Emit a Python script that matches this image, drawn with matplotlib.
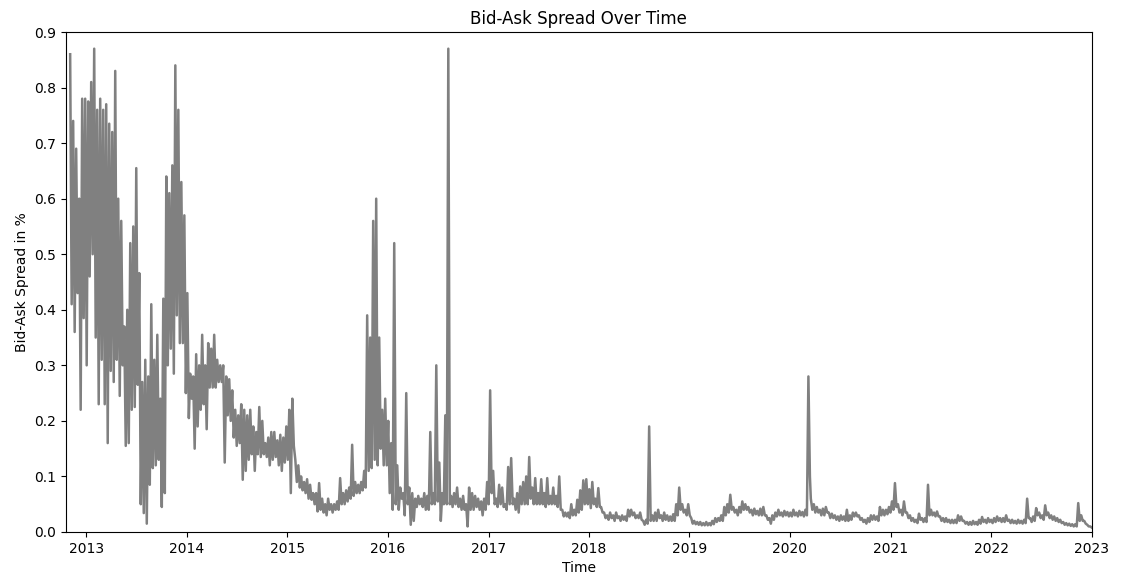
import numpy as np
import pandas as pd
import matplotlib
matplotlib.use("Agg")
import matplotlib.pyplot as plt
import matplotlib.dates as mdates

# spread readings, pairs of (high, low) every ~11 days, per segment
seg_2012 = [0.86, 0.41, 0.74, 0.36, 0.69, 0.43, 0.60, 0.22, 0.78, 0.385,
            0.78, 0.30, 0.775, 0.46, 0.81, 0.50, 0.87, 0.35, 0.76, 0.23,
            0.78, 0.31, 0.76, 0.23, 0.77, 0.16, 0.735, 0.29, 0.72, 0.27,
            0.83, 0.31, 0.60, 0.245, 0.56, 0.30, 0.37, 0.155, 0.40, 0.16,
            0.52, 0.22, 0.55, 0.225, 0.655, 0.265, 0.466, 0.05, 0.27, 0.034,
            0.31, 0.015, 0.28, 0.085, 0.41, 0.115, 0.31, 0.12, 0.355, 0.13,
            0.24, 0.045, 0.42, 0.07, 0.64, 0.30, 0.61, 0.33, 0.66, 0.285,
            0.84, 0.39, 0.76, 0.34, 0.63, 0.34, 0.57, 0.25, 0.43, 0.205]

seg_2014 = [0.285, 0.24, 0.28, 0.15, 0.32, 0.19, 0.30, 0.22, 0.355, 0.23,
            0.30, 0.185, 0.34, 0.26, 0.33, 0.26, 0.355, 0.26, 0.31, 0.27,
            0.30, 0.27, 0.30, 0.125, 0.28, 0.21, 0.275, 0.20, 0.255, 0.17,
            0.22, 0.155, 0.21, 0.16, 0.23, 0.094, 0.22, 0.11, 0.21, 0.13,
            0.22, 0.14, 0.19, 0.11, 0.18, 0.14, 0.225, 0.135, 0.20, 0.14,
            0.16, 0.135, 0.17, 0.12, 0.18, 0.13, 0.18, 0.135, 0.165, 0.12,
            0.175, 0.11, 0.17, 0.125, 0.19, 0.13, 0.22, 0.07, 0.24, 0.155,
            0.13, 0.09, 0.12, 0.08]

seg_2015 = [0.10, 0.075, 0.09, 0.07, 0.095, 0.06, 0.085, 0.058, 0.07, 0.05,
            0.07, 0.037, 0.088, 0.04, 0.06, 0.035, 0.05, 0.03, 0.06, 0.04,
            0.05, 0.035, 0.05, 0.04, 0.055, 0.04, 0.097, 0.05, 0.07, 0.05,
            0.075, 0.055, 0.08, 0.06, 0.157, 0.065, 0.09, 0.07, 0.085, 0.07,
            0.09, 0.075, 0.11, 0.08, 0.39, 0.11, 0.35, 0.115, 0.56, 0.13,
            0.60, 0.12, 0.35, 0.15, 0.22, 0.12, 0.24, 0.12, 0.20, 0.07,
            0.16, 0.04, 0.52, 0.05, 0.12, 0.04, 0.08, 0.06, 0.07, 0.03,
            0.25, 0.05, 0.08, 0.013, 0.07, 0.02, 0.06, 0.045, 0.065, 0.05,
            0.06, 0.045, 0.07, 0.04, 0.065, 0.04, 0.18, 0.05, 0.07, 0.05,
            0.30, 0.055, 0.125, 0.02, 0.07, 0.05, 0.21, 0.05, 0.87, 0.05]

seg_2016 = [0.065, 0.045, 0.07, 0.05, 0.08, 0.045, 0.06, 0.04, 0.065, 0.04,
            0.05, 0.01, 0.08, 0.04, 0.07, 0.04, 0.065, 0.045, 0.06, 0.04,
            0.055, 0.03, 0.06, 0.04, 0.09, 0.05, 0.255, 0.07, 0.11, 0.05,
            0.06, 0.045, 0.085, 0.05, 0.08, 0.045, 0.05, 0.04, 0.117, 0.05,
            0.133, 0.05, 0.06, 0.04, 0.07, 0.035, 0.082, 0.05, 0.09, 0.05,
            0.10, 0.05, 0.135, 0.06, 0.08, 0.05, 0.097, 0.05, 0.07, 0.05,
            0.095, 0.05, 0.07, 0.045, 0.097, 0.05, 0.065, 0.05, 0.08, 0.05,
            0.065, 0.045, 0.10, 0.04, 0.04, 0.028, 0.035, 0.028, 0.035, 0.025,
            0.05, 0.03, 0.04, 0.03, 0.058, 0.035, 0.075, 0.04, 0.093, 0.05,
            0.095, 0.05, 0.077, 0.043, 0.09, 0.05, 0.06, 0.045, 0.079, 0.045]

seg_2018 = [0.045, 0.035, 0.035, 0.025, 0.03, 0.022, 0.035, 0.025, 0.03, 0.02,
            0.035, 0.025, 0.028, 0.02, 0.03, 0.022, 0.028, 0.02, 0.04, 0.028,
            0.04, 0.03, 0.035, 0.025, 0.03, 0.025, 0.035, 0.022, 0.02, 0.013,
            0.022, 0.015, 0.19, 0.02, 0.03, 0.02, 0.035, 0.02, 0.04, 0.025,
            0.03, 0.02, 0.035, 0.022, 0.03, 0.02, 0.028, 0.02, 0.032, 0.02,
            0.05, 0.03, 0.08, 0.04, 0.05, 0.035, 0.04, 0.03, 0.05, 0.03,
            0.025, 0.015, 0.02, 0.014, 0.018, 0.013, 0.018, 0.012, 0.016, 0.012,
            0.018, 0.012, 0.016, 0.012, 0.02, 0.014, 0.025, 0.018, 0.025, 0.02,
            0.03, 0.02, 0.045, 0.03, 0.05, 0.035, 0.067, 0.04, 0.045, 0.035,
            0.04, 0.03, 0.045, 0.035, 0.055, 0.04, 0.05, 0.04, 0.045, 0.035,
            0.04, 0.03, 0.042, 0.032, 0.038, 0.03, 0.042, 0.03, 0.045, 0.03,
            0.03, 0.022, 0.025, 0.015, 0.03, 0.022, 0.035, 0.028, 0.04, 0.03,
            0.035, 0.028, 0.038, 0.03, 0.036, 0.028, 0.035, 0.028, 0.04, 0.03,
            0.035, 0.028, 0.038, 0.03, 0.036, 0.028, 0.04, 0.03, 0.28, 0.10]

seg_2020 = [0.06, 0.04, 0.05, 0.035, 0.045, 0.035, 0.04, 0.03, 0.042, 0.03,
            0.045, 0.035, 0.035, 0.025, 0.033, 0.025, 0.03, 0.022, 0.028, 0.02,
            0.03, 0.022, 0.028, 0.02, 0.04, 0.02, 0.03, 0.022, 0.035, 0.028,
            0.035, 0.028, 0.03, 0.022, 0.025, 0.018, 0.022, 0.015, 0.025, 0.018,
            0.03, 0.022, 0.03, 0.022, 0.028, 0.02, 0.045, 0.03, 0.04, 0.03,
            0.04, 0.032, 0.045, 0.035, 0.055, 0.04, 0.088, 0.045, 0.05, 0.035,
            0.04, 0.03, 0.055, 0.035, 0.035, 0.025, 0.03, 0.02, 0.025, 0.018,
            0.022, 0.016, 0.033, 0.022, 0.025, 0.018, 0.025, 0.018, 0.085, 0.03,
            0.04, 0.03, 0.035, 0.028, 0.037, 0.028, 0.028, 0.02, 0.025, 0.018,
            0.025, 0.018, 0.022, 0.016, 0.022, 0.016, 0.022, 0.016, 0.03, 0.02,
            0.028, 0.02, 0.02, 0.015, 0.018, 0.013, 0.018, 0.013, 0.02, 0.014,
            0.018, 0.013, 0.022, 0.015, 0.027, 0.018, 0.022, 0.016, 0.025, 0.018,
            0.022, 0.016, 0.025, 0.018, 0.028, 0.02, 0.025, 0.018, 0.025, 0.018,
            0.03, 0.02, 0.022, 0.016, 0.022, 0.016, 0.02, 0.015, 0.022, 0.016,
            0.02, 0.015, 0.022, 0.016, 0.06, 0.025, 0.025, 0.018, 0.028, 0.02,
            0.043, 0.03, 0.035, 0.025, 0.03, 0.022, 0.048, 0.03, 0.035, 0.025,
            0.03, 0.022, 0.028, 0.02, 0.025, 0.018, 0.022, 0.016, 0.018, 0.013,
            0.016, 0.012, 0.015, 0.011, 0.014, 0.01, 0.014, 0.01, 0.052, 0.02,
            0.03, 0.02, 0.02, 0.015, 0.013, 0.01, 0.01, 0.008]

seg_starts = ["2012-11-03", "2014-01-13", "2015-02-20",
              "2016-08-18", "2018-02-14", "2020-03-17"]
segments = [seg_2012, seg_2014, seg_2015, seg_2016, seg_2018, seg_2020]

half_step = pd.Timedelta(hours=131)  # high and low readings alternate

dates = []
values = []
for start, seg in zip(seg_starts, segments):
    t0 = pd.Timestamp(start)
    dates += [t0 + i * half_step for i in range(len(seg))]
    values += seg

spread = pd.Series(values, index=pd.DatetimeIndex(dates))

fig = plt.figure(figsize=(11.23, 5.78), dpi=100)
ax = fig.add_axes([0.0588, 0.0796, 0.9132, 0.865])
ax.plot(spread.index, spread.values, color='gray', linewidth=1.8)

ax.set_title('Bid-Ask Spread Over Time', fontsize=12)
ax.set_xlabel('Time', fontsize=10)
ax.set_ylabel('Bid-Ask Spread in %', fontsize=10)
ax.set_ylim(0, 0.9)
ax.set_xlim(pd.Timestamp("2012-10-19"), pd.Timestamp("2023-01-01"))
ax.xaxis.set_major_locator(mdates.YearLocator())
ax.xaxis.set_major_formatter(mdates.DateFormatter('%Y'))
ax.tick_params(labelsize=10)

fig.savefig('out.png', dpi=100)
